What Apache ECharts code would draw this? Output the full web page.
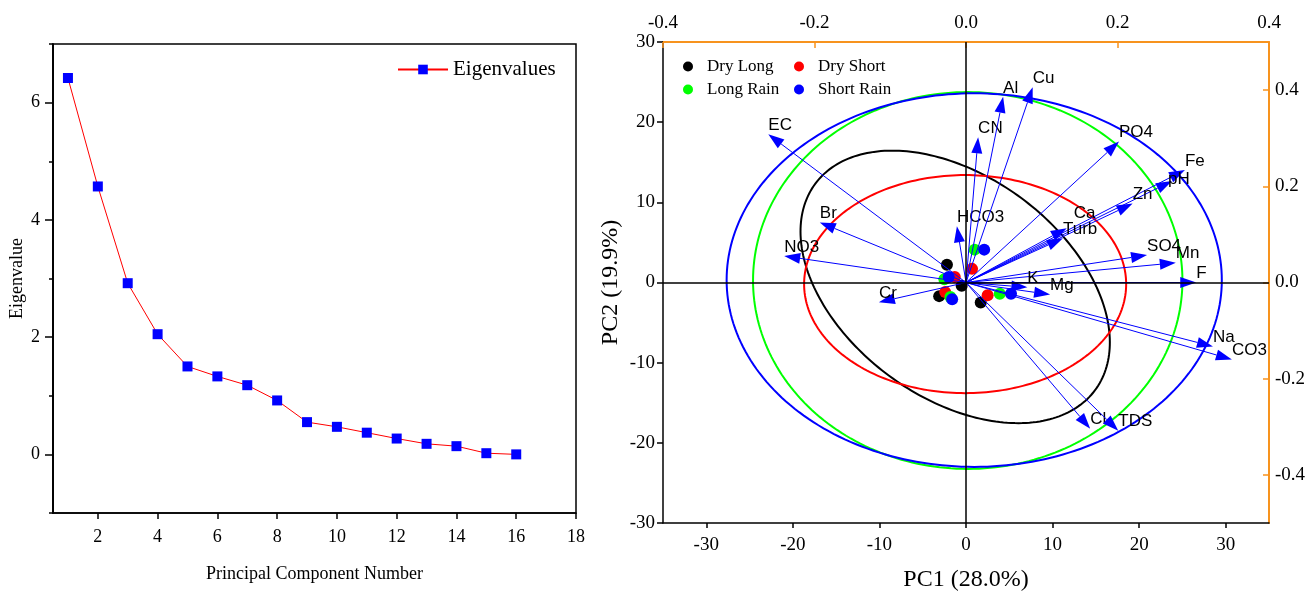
<!DOCTYPE html>
<html>
<head>
<meta charset="utf-8">
<title>Scree plot and PCA biplot</title>
<script src="https://cdn.jsdelivr.net/npm/echarts@6/dist/echarts.min.js"></script>
<style>
  html, body { margin: 0; padding: 0; background: #fff; }
  #chart { width: 1309px; height: 597px; }
</style>
</head>
<body>
<div id="chart"></div>
<script>
// ---- scree plot data ----
const componentNumbers = [1, 2, 3, 4, 5, 6, 7, 8, 9, 10, 11, 12, 13, 14, 15, 16]
const eigenvalues = [6.42, 4.57, 2.92, 2.05, 1.50, 1.33, 1.18, 0.92, 0.55, 0.47, 0.37, 0.27, 0.18, 0.14, 0.02, 0.0]
const screeXTicks = [2, 4, 6, 8, 10, 12, 14, 16, 18]
const screeYMajor = [0, 2, 4, 6]
const screeYMinor = [-1, 1, 3, 5, 7]

// ---- biplot: scores ----
const groups = ['Dry Long', 'Dry Short', 'Long Rain', 'Short Rain']
const scoresDryLong = [[-2.2, 2.2], [-0.5, -0.4], [-3.1, -1.7], [1.7, -2.5]]
const scoresDryShort = [[0.7, 1.7], [-1.3, 0.7], [-2.4, -1.2], [2.5, -1.6]]
const scoresLongRain = [[1.0, 4.1], [-2.5, 0.4], [-1.8, -1.8], [3.9, -1.4]]
const scoresShortRain = [[2.1, 4.1], [-2.0, 0.7], [-1.6, -2.1], [5.2, -1.4]]

// confidence ellipses (same order as groups)
const ellipseCx = [-1.25, -0.1, 0.2, 0.95]
const ellipseCy = [-0.55, -0.2, 0.25, 0.3]
const ellipseA = [20.7, 18.6, 24.8, 28.6]
const ellipseB = [13.4, 13.6, 23.5, 23.3]
const ellipseAngle = [138.5, 0, 0, 0]

// ---- biplot: loadings ----
const variables = ['EC', 'Br', 'NO3', 'Cr', 'HCO3', 'CN', 'Al', 'Cu', 'PO4', 'Fe', 'pH', 'Zn',
  'Ca', 'Turb', 'SO4', 'Mn', 'F', 'K', 'Mg', 'Na', 'CO3', 'Cl', 'TDS']
const loadPC1 = [-0.261, -0.193, -0.240, -0.115, -0.012, 0.016, 0.049, 0.088, 0.202, 0.289, 0.272, 0.220,
  0.133, 0.128, 0.239, 0.277, 0.304, 0.081, 0.111, 0.326, 0.351, 0.164, 0.201]
const loadPC2 = [0.308, 0.125, 0.055, -0.041, 0.117, 0.302, 0.386, 0.406, 0.293, 0.234, 0.211, 0.164,
  0.113, 0.092, 0.057, 0.041, 0.000, -0.010, -0.025, -0.133, -0.160, -0.304, -0.308]

const pcXTicks = [-30, -20, -10, 0, 10, 20, 30]
const loadYTicks = [-0.4, -0.2, 0, 0.2, 0.4]

// ---- styles ----
const serif = 'Liberation Serif'
const sans = 'Liberation Sans'
const orange = '#F7931E'
const groupColors = ['#000000', '#FF0000', '#00FF00', '#0000FF']
const labelNudge = { pH: [-4, 7], Ca: [7, -6] }

let myChart = echarts.init(document.getElementById('chart'))

const scoreSets = [scoresDryLong, scoresDryShort, scoresLongRain, scoresShortRain]

function blackAxis(extra) {
  return Object.assign({
    axisLine: { show: true, onZero: false, lineStyle: { color: '#000', width: 1.5 } },
    splitLine: { show: false },
    nameTextStyle: { fontFamily: serif, color: '#000' }
  }, extra)
}

let ellipseSeries = groups.map((g, i) => ({
  name: g + ' ellipse',
  type: 'custom',
  xAxisIndex: 1,
  yAxisIndex: 2,
  silent: true,
  z: 2,
  data: [[ellipseCx[i], ellipseCy[i], ellipseA[i], ellipseB[i], ellipseAngle[i]]],
  renderItem: function (params, api) {
    let cx = api.value(0), cy = api.value(1), a = api.value(2), b = api.value(3)
    let t = api.value(4) * Math.PI / 180
    let pts = []
    for (let k = 0; k < 240; k++) {
      let s = k / 240 * Math.PI * 2
      let x = cx + a * Math.cos(s) * Math.cos(t) - b * Math.sin(s) * Math.sin(t)
      let y = cy + a * Math.cos(s) * Math.sin(t) + b * Math.sin(s) * Math.cos(t)
      pts.push(api.coord([x, y]))
    }
    return {
      type: 'polygon',
      shape: { points: pts },
      style: { fill: 'none', stroke: groupColors[i], lineWidth: 2 }
    }
  }
}))

let scoreSeries = groups.map((g, i) => ({
  name: g,
  type: 'scatter',
  xAxisIndex: 1,
  yAxisIndex: 2,
  symbol: 'circle',
  symbolSize: 12,
  z: 3,
  itemStyle: { color: groupColors[i], opacity: 1 },
  data: scoreSets[i]
}))

let arrowSeries = {
  name: 'loadings',
  type: 'custom',
  xAxisIndex: 2,
  yAxisIndex: 3,
  silent: true,
  z: 4,
  data: variables.map((v, i) => [loadPC1[i], loadPC2[i], i]),
  renderItem: function (params, api) {
    let p0 = api.coord([0, 0])
    let p1 = api.coord([api.value(0), api.value(1)])
    let name = variables[api.value(2)]
    let dx = p1[0] - p0[0], dy = p1[1] - p0[1]
    let len = Math.sqrt(dx * dx + dy * dy)
    let ux = dx / len, uy = dy / len
    let headLen = 16, headHalf = 5.5
    let bx = p1[0] - ux * headLen, by = p1[1] - uy * headLen
    let nudge = labelNudge[name] || [0, 0]
    return {
      type: 'group',
      children: [
        {
          type: 'line',
          shape: { x1: p0[0], y1: p0[1], x2: bx, y2: by },
          style: { stroke: '#0000FF', lineWidth: 1 }
        },
        {
          type: 'polygon',
          shape: { points: [p1, [bx - uy * headHalf, by + ux * headHalf], [bx + uy * headHalf, by - ux * headHalf]] },
          style: { fill: '#0000FF' }
        },
        {
          type: 'text',
          style: {
            text: name,
            x: p1[0] + nudge[0],
            y: p1[1] - 9 + nudge[1],
            fill: '#000',
            font: '17px "' + sans + '"',
            align: 'left',
            verticalAlign: 'middle'
          }
        }
      ]
    }
  }
}

let zeroLines = {
  name: 'zero',
  type: 'line',
  xAxisIndex: 1,
  yAxisIndex: 2,
  data: [],
  silent: true,
  z: 1,
  markLine: {
    symbol: ['none', 'none'],
    silent: true,
    label: { show: false },
    lineStyle: { color: '#000', width: 1.5, type: 'solid' },
    data: [{ xAxis: 0 }, { yAxis: 0 }]
  }
}

myChart.setOption({
  animation: false,
  backgroundColor: '#fff',
  textStyle: { fontFamily: serif, color: '#000' },
  grid: [
    { left: 53, top: 44, width: 523, height: 469, show: true, borderColor: '#000', borderWidth: 1.5 },
    { left: 663, top: 42, width: 606, height: 487 }
  ],
  legend: [
    {
      data: ['Eigenvalues'],
      left: 392,
      top: 54,
      itemWidth: 50,
      itemHeight: 12,
      textStyle: { fontFamily: serif, fontSize: 21, color: '#000' }
    },
    {
      data: ['Dry Long', 'Long Rain'],
      orient: 'vertical',
      left: 678,
      top: 53,
      icon: 'circle',
      itemWidth: 28,
      itemHeight: 10,
      itemGap: 6,
      textStyle: { fontFamily: serif, fontSize: 17, lineHeight: 17, color: '#000' }
    },
    {
      data: ['Dry Short', 'Short Rain'],
      orient: 'vertical',
      left: 789,
      top: 53,
      icon: 'circle',
      itemWidth: 28,
      itemHeight: 10,
      itemGap: 6,
      textStyle: { fontFamily: serif, fontSize: 17, lineHeight: 17, color: '#000' }
    }
  ],
  xAxis: [
    blackAxis({
      gridIndex: 0,
      type: 'value',
      min: 0.5,
      max: 18,
      name: 'Principal Component Number',
      nameLocation: 'middle',
      nameGap: 52,
      nameTextStyle: { fontFamily: serif, fontSize: 18, color: '#000' },
      axisTick: { show: true, length: 6, customValues: screeXTicks, lineStyle: { color: '#000', width: 1.5 } },
      axisLabel: { customValues: screeXTicks, fontFamily: serif, fontSize: 18, color: '#000', margin: 15 }
    }),
    blackAxis({
      gridIndex: 1,
      type: 'value',
      min: -35,
      max: 35,
      name: 'PC1 (28.0%)',
      nameLocation: 'middle',
      nameGap: 45,
      nameTextStyle: { fontFamily: serif, fontSize: 24, color: '#000' },
      axisTick: { show: true, length: 5, customValues: pcXTicks, lineStyle: { color: '#000', width: 1.5 } },
      axisLabel: { customValues: pcXTicks, fontFamily: serif, fontSize: 19, color: '#000', margin: 13 }
    }),
    {
      gridIndex: 1,
      type: 'value',
      position: 'top',
      min: -0.4,
      max: 0.4,
      interval: 0.2,
      splitLine: { show: false },
      axisLine: { show: true, onZero: false, lineStyle: { color: orange, width: 2 } },
      axisTick: { show: true, inside: true, length: 6, lineStyle: { color: orange, width: 1.5 } },
      axisLabel: {
        fontFamily: serif, fontSize: 19, color: '#000', margin: 9,
        showMinLabel: true, showMaxLabel: true,
        formatter: v => v.toFixed(1)
      }
    }
  ],
  yAxis: [
    blackAxis({
      gridIndex: 0,
      type: 'value',
      position: 'left',
      min: -1,
      max: 7,
      name: 'Eigenvalue',
      nameLocation: 'middle',
      nameGap: 27,
      nameTextStyle: { fontFamily: serif, fontSize: 18, color: '#000' },
      axisTick: { show: true, length: 8, customValues: screeYMajor, lineStyle: { color: '#000', width: 1.5 } },
      axisLabel: { customValues: screeYMajor, fontFamily: serif, fontSize: 18, color: '#000', margin: 13 }
    }),
    blackAxis({
      gridIndex: 0,
      type: 'value',
      position: 'left',
      offset: 0,
      min: -1,
      max: 7,
      axisTick: { show: true, length: 4, customValues: screeYMinor, lineStyle: { color: '#000', width: 1.5 } },
      axisLabel: { show: false }
    }),
    blackAxis({
      gridIndex: 1,
      type: 'value',
      min: -30,
      max: 30,
      interval: 10,
      name: 'PC2 (19.9%)',
      nameLocation: 'middle',
      nameGap: 40,
      nameTextStyle: { fontFamily: serif, fontSize: 24, color: '#000' },
      axisTick: { show: true, length: 6, lineStyle: { color: '#000', width: 1.5 } },
      axisLabel: { fontFamily: serif, fontSize: 19, color: '#000', margin: 8 }
    }),
    {
      gridIndex: 1,
      type: 'value',
      position: 'right',
      min: -0.5,
      max: 0.5,
      splitLine: { show: false },
      axisLine: { show: true, onZero: false, lineStyle: { color: orange, width: 2 } },
      axisTick: { show: true, inside: true, length: 6, customValues: loadYTicks, lineStyle: { color: orange, width: 1.5 } },
      axisLabel: {
        customValues: loadYTicks, fontFamily: serif, fontSize: 19, color: '#000', margin: 6,
        formatter: v => v.toFixed(1)
      }
    }
  ],
  series: [
    {
      name: 'Eigenvalues',
      type: 'line',
      xAxisIndex: 0,
      yAxisIndex: 0,
      symbol: 'rect',
      symbolSize: 10,
      itemStyle: { color: '#0000FF' },
      lineStyle: { color: '#FF0000', width: 1 },
      data: componentNumbers.map((n, i) => [n, eigenvalues[i]])
    },
    zeroLines,
    ...ellipseSeries,
    ...scoreSeries,
    arrowSeries
  ]
})
</script>
</body>
</html>
